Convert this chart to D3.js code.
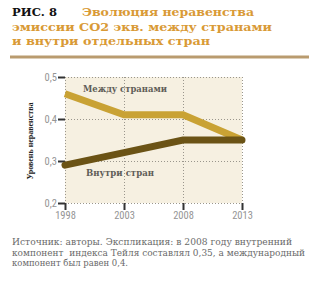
<!DOCTYPE html>
<html>
<head>
<meta charset="utf-8">
<script src="https://cdn.jsdelivr.net/npm/d3@7"></script>
<style>
  html, body { margin: 0; padding: 0; background: #fff; }
  svg { display: block; }
</style>
</head>
<body>
<svg id="chart" width="320" height="281"></svg>
<script>
// Years on the horizontal axis
const years = [1998, 2003, 2008, 2013];
// Theil index: between-country and within-country components
const betweenCountries = [0.46, 0.41, 0.41, 0.35];
const withinCountries = [0.29, 0.32, 0.35, 0.35];
// Axis ticks
const yTicks = [0.2, 0.3, 0.4, 0.5];
const seriesLabels = ["Между странами", "Внутри стран"];
const titleLines = ["Эволюция неравенства", "эмиссии СО2 экв. между странами", "и внутри отдельных стран"];
const captionLines = [
  "Источник: авторы. Экспликация: в 2008 году внутренний",
  "компонент  индекса Тейля составлял 0,35, а международный",
  "компонент был равен 0,4."
];

const svg = d3.select("#chart");

const x = d3.scaleLinear().domain([1998, 2013]).range([65, 242]);
const y = d3.scaleLinear().domain([0.2, 0.5]).range([203, 77]);

// Heading
const serifHead = "'DejaVu Serif', 'Liberation Serif', serif";
svg.append("text").attr("x", 12).attr("y", 15.5)
  .attr("font-family", serifHead).attr("font-weight", "bold").attr("font-size", 11.5)
  .attr("fill", "#111").attr("textLength", 45).attr("lengthAdjust", "spacingAndGlyphs")
  .text("РИС. 8");
const titleLayout = [[82, 15.5, 172], [12, 30.5, 260], [12, 45, 198]];
titleLines.forEach((t, i) => {
  svg.append("text").attr("x", titleLayout[i][0]).attr("y", titleLayout[i][1])
    .attr("font-family", serifHead).attr("font-weight", "bold").attr("font-size", 11.5)
    .attr("fill", "#d99a36").attr("textLength", titleLayout[i][2]).attr("lengthAdjust", "spacingAndGlyphs")
    .text(t);
});
svg.append("rect").attr("x", 10).attr("y", 55.5).attr("width", 299).attr("height", 3)
  .attr("fill", "#b99b6f");

// Plot background
svg.append("rect")
  .attr("x", x(1998)).attr("y", y(0.5))
  .attr("width", x(2013) - x(1998)).attr("height", y(0.2) - y(0.5))
  .attr("fill", "#f6f0e1");

// Dotted grid
const grid = svg.append("g").attr("stroke", "#9a968c").attr("stroke-width", 1)
  .attr("stroke-dasharray", "1,2").attr("shape-rendering", "crispEdges");
grid.selectAll("line.h").data(yTicks).join("line").attr("class", "h")
  .attr("x1", x(1998)).attr("x2", x(2013))
  .attr("y1", d => Math.round(y(d)) + 0.5).attr("y2", d => Math.round(y(d)) + 0.5);
grid.selectAll("line.v").data(years).join("line").attr("class", "v")
  .attr("y1", y(0.5)).attr("y2", y(0.2))
  .attr("x1", d => Math.round(x(d)) + 0.5).attr("x2", d => Math.round(x(d)) + 0.5);

// Axes
const tickFont = "'Liberation Sans Narrow', 'Roboto Condensed', 'Liberation Sans', sans-serif";
const yAxis = svg.append("g").attr("transform", `translate(${x(1998)},0)`)
  .call(d3.axisLeft(y).tickValues(yTicks).tickSize(7).tickPadding(1)
    .tickFormat(d => d3.format(".1f")(d).replace(".", ",")));
const xAxis = svg.append("g").attr("transform", `translate(0,${y(0.2)})`)
  .call(d3.axisBottom(x).tickValues(years).tickSize(7).tickPadding(2).tickFormat(d3.format("d")));
[yAxis, xAxis].forEach(a => {
  a.select(".domain").remove();
  a.selectAll(".tick line").attr("stroke", "#333").attr("stroke-width", 2);
  a.selectAll(".tick text").attr("fill", "#959595")
    .attr("font-family", tickFont).attr("font-size", 10.5);
});

// Y axis title
svg.append("text")
  .attr("transform", `translate(33,${(y(0.5) + y(0.2)) / 2 + 1}) rotate(-90)`)
  .attr("text-anchor", "middle")
  .attr("font-family", "'Liberation Serif', serif").attr("font-weight", "bold").attr("font-size", 7.5)
  .attr("fill", "#222").attr("textLength", 77).attr("lengthAdjust", "spacingAndGlyphs")
  .text("Уровень неравенства");

// Series lines
const line = d3.line().x((d, i) => x(years[i])).y(d => y(d));
svg.append("path").datum(betweenCountries)
  .attr("d", line).attr("fill", "none")
  .attr("stroke", "#c9a234").attr("stroke-width", 7).attr("stroke-linejoin", "miter");
svg.append("path").datum(withinCountries)
  .attr("d", line).attr("fill", "none")
  .attr("stroke", "#6b5315").attr("stroke-width", 7).attr("stroke-linejoin", "miter")
  .attr("stroke-linecap", "round");

// Series labels
const labelLayout = [[83, 91.5, 84], [86, 176, 68]];
seriesLabels.forEach((t, i) => {
  svg.append("text").attr("x", labelLayout[i][0]).attr("y", labelLayout[i][1])
    .attr("font-family", "'DejaVu Serif', serif").attr("font-weight", "bold").attr("font-size", 9)
    .attr("fill", "#5f5d57").attr("textLength", labelLayout[i][2]).attr("lengthAdjust", "spacingAndGlyphs")
    .text(t);
});

// Caption
const capLayout = [[245, 280], [255.5, 293], [266, 116]];
captionLines.forEach((t, i) => {
  svg.append("text").attr("x", 12).attr("y", capLayout[i][0])
    .attr("font-family", "'DejaVu Serif', serif").attr("font-size", 8.5)
    .attr("fill", "#6a6a6a").attr("textLength", capLayout[i][1]).attr("lengthAdjust", "spacingAndGlyphs")
    .style("white-space", "pre")
    .text(t);
});
</script>
</body>
</html>
